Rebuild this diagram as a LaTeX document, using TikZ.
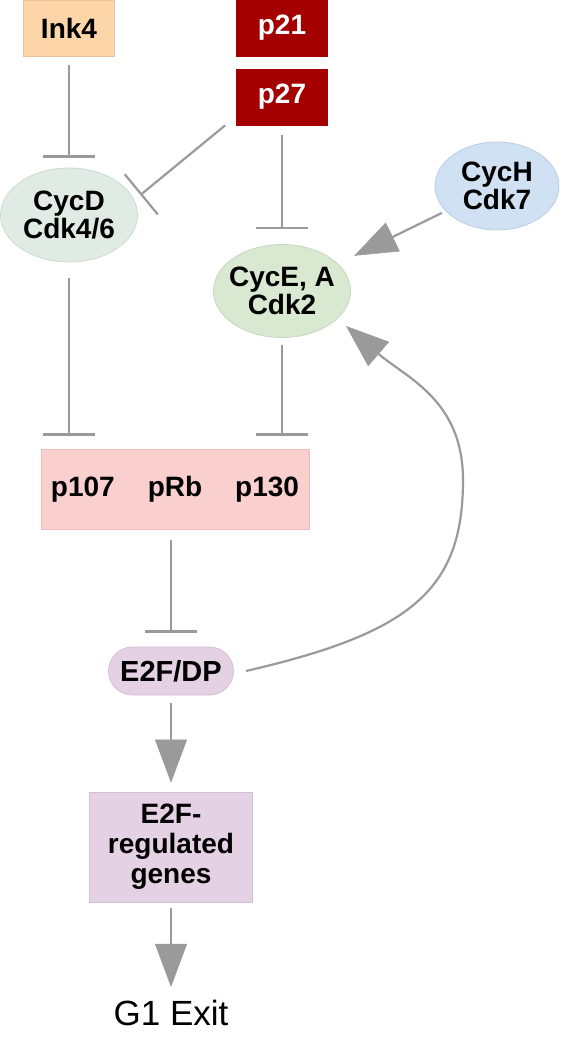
\documentclass[tikz,border=0pt]{standalone}
\usepackage{fontspec}
\setmainfont{Liberation Sans}
\usetikzlibrary{arrows.meta,shapes.geometric,calc}
\definecolor{linec}{HTML}{9A9A9A}
\definecolor{ink4f}{HTML}{FCD5A9}
\definecolor{ink4d}{HTML}{EBC59A}
\definecolor{redf}{HTML}{A50000}
\definecolor{cycdf}{HTML}{E0ECE3}
\definecolor{cycdd}{HTML}{CBDACF}
\definecolor{cycef}{HTML}{D9E8D0}
\definecolor{cyced}{HTML}{C6D7BD}
\definecolor{cychf}{HTML}{CFE1F2}
\definecolor{cychd}{HTML}{BACDE0}
\definecolor{rbf}{HTML}{FAD0CE}
\definecolor{rbd}{HTML}{EDBEBC}
\definecolor{e2ff}{HTML}{E4D1E3}
\definecolor{e2fd}{HTML}{D3BFD2}
\tikzset{
  lbl/.style={font=\fontsize{28}{28}\selectfont\bfseries, align=center, text=black},
  box/.style={lbl, rectangle, inner sep=0pt, line width=0.8pt},
  ell/.style={lbl, ellipse, inner xsep=-10pt, inner ysep=0pt, line width=0.8pt},
  inh/.style={draw=linec, line width=2.2pt, -{Bar[width=52pt,line width=2.2pt]}},
  act/.style={draw=linec, line width=2.2pt, -{Triangle[length=43pt,width=32pt,line width=0.5pt]}, color=linec},
}
\begin{document}
\begin{tikzpicture}[x=1pt,y=-1pt]
\useasboundingbox (0,0) rectangle (572,1050);
% nodes
\node[box, fill=ink4f, draw=ink4d, minimum width=91pt, minimum height=56pt] (Ink4) at (69,28) {Ink4};
\node[box, fill=redf, draw=redf, text=white, minimum width=91pt, minimum height=56pt] (p21) at (282,28) {p21};
\node[box, fill=redf, draw=redf, text=white, minimum width=91pt, minimum height=56pt] (p27) at (282,97) {p27};
\node[ell, fill=cycdf, draw=cycdd, minimum width=137pt, minimum height=94pt] (CycD) at (69,215) {\raisebox{-3pt}{CycD}\\\raisebox{-3pt}{Cdk4/6}};
\node[ell, fill=cycef, draw=cyced, minimum width=137pt, minimum height=93pt] (CycE) at (282,291) {CycE, A\\Cdk2};
\node[ell, fill=cychf, draw=cychd, minimum width=124pt, minimum height=88pt] (CycH) at (497,186) {CycH\\Cdk7};
\node[box, fill=rbf, draw=rbd, minimum width=268pt, minimum height=80pt] (pRb) at (175,489) {p107\hspace{33pt}pRb\hspace{33pt}p130};
\node[box, fill=e2ff, draw=e2fd, minimum width=125pt, minimum height=48pt, rounded corners=24pt, font=\fontsize{29}{29}\selectfont\bfseries] (E2F) at (171,671) {E2F/DP};
\node[box, fill=e2ff, draw=e2fd, minimum width=163pt, minimum height=110pt, font=\fontsize{28}{30}\selectfont\bfseries] (genes) at (171,847) {E2F-\\regulated\\genes};
\node[inner sep=0pt, font=\fontsize{35}{35}\selectfont] (G1) at (171,1013) {G1 Exit};
% inhibitions
\draw[inh, shorten <=9pt, shorten >=10pt] (Ink4) -- (CycD);
\draw[inh, shorten <=10pt, shorten >=15pt] (p27) -- (CycE);
\draw[inh] ([xshift=-11pt]p27.south west) -- ([shift={(2.5,-20)}]CycD.east);
\draw[inh, shorten <=16pt, shorten >=13pt] (CycD.south) -- (CycD.south |- pRb.north);
\draw[inh, shorten <=7pt, shorten >=13pt] (CycE.south) -- (CycE.south |- pRb.north);
\draw[inh, shorten <=11pt, shorten >=14pt] (E2F.north |- pRb.south) -- (E2F.north);
% activations
\draw[act, shorten <=4pt, shorten >=18pt] (CycH) -- (CycE);
\draw[act, shorten <=8pt, shorten >=9pt] (E2F) -- (genes);
\draw[act, shorten <=6pt, shorten >=13pt] (genes) -- (G1);
\draw[act] ([xshift=12pt]E2F.east) .. controls (411,633) and (463,590) .. (463,480)
  .. controls (463,400) and (406,377.5) .. ([shift={(64,35)}]CycE.center);
\end{tikzpicture}
\end{document}
